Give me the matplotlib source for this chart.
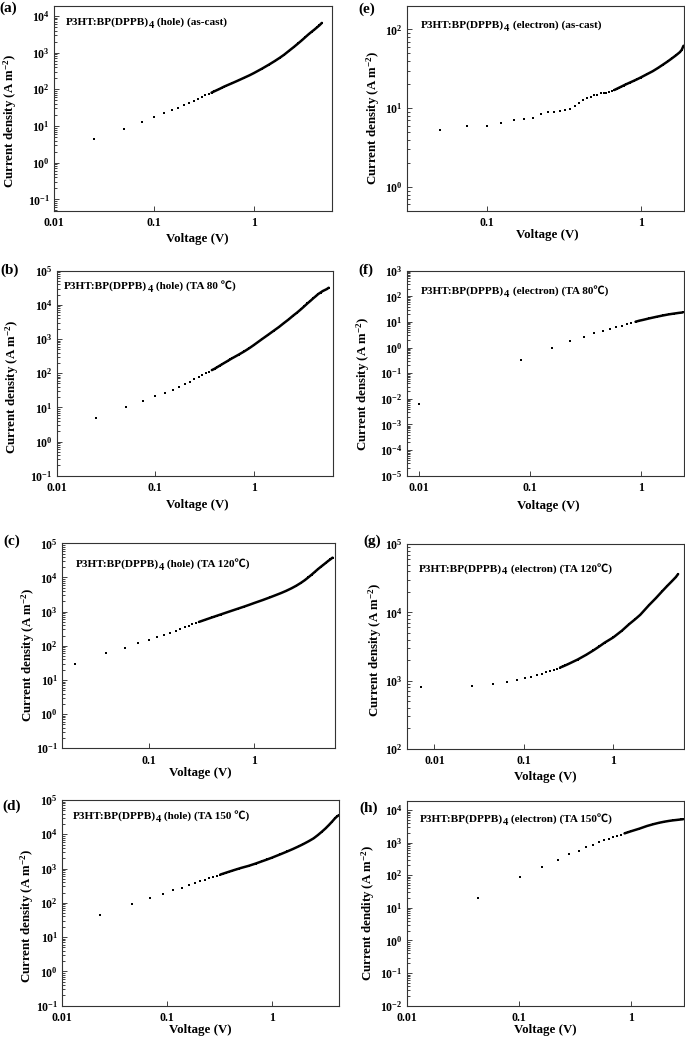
import numpy as np
import matplotlib
matplotlib.use('Agg')
import matplotlib.pyplot as plt
from matplotlib.ticker import LogLocator, FuncFormatter, NullFormatter, NullLocator, FixedLocator

plt.rcParams['font.family'] = ['Liberation Serif', 'Noto Sans CJK SC', 'DejaVu Sans']
plt.rcParams['font.weight'] = 'bold'
plt.rcParams['mathtext.fontset'] = 'custom'
plt.rcParams['mathtext.rm'] = 'Liberation Serif:bold'
plt.rcParams['mathtext.bf'] = 'Liberation Serif:bold'
plt.rcParams['mathtext.it'] = 'Liberation Serif:bold:italic'
plt.rcParams['mathtext.default'] = 'rm'

# ---------------- data ----------------
V_a = [0.025, 0.05, 0.075, 0.1, 0.125, 0.15, 0.175, 0.2, 0.225, 0.25, 0.275, 0.3, 0.325, 0.35,
       0.375, 0.4, 0.425, 0.45, 0.475, 0.5, 0.525, 0.55, 0.575, 0.6, 0.7, 0.8, 0.9, 1.0, 1.2, 1.4,
       1.6, 1.8, 2.0, 2.25, 2.5, 2.75, 3.0, 3.25, 3.5, 3.75, 4.0, 4.25, 4.5, 4.75]
J_a = [4.3, 8.5, 13.1, 18.0, 22.2, 26.7, 31.6, 37.0, 43.0, 49.0, 55.0, 61.5, 68.0, 74.5,
       81, 88, 95, 102, 110, 118, 125, 132, 139, 146, 176, 208, 241, 279, 366, 467,
       584, 720, 881, 1140, 1430, 1775, 2170, 2640, 3160, 3690, 4240, 4870, 5560, 6450]

V_b = [0.025, 0.05, 0.075, 0.1, 0.125, 0.15, 0.175, 0.2, 0.225, 0.25, 0.275, 0.3, 0.325, 0.35,
       0.375, 0.4, 0.425, 0.45, 0.475, 0.5, 0.525, 0.55, 0.575, 0.6, 0.7, 0.8, 0.9, 1.0, 1.2, 1.4,
       1.6, 1.8, 2.0, 2.25, 2.5, 2.75, 3.0, 3.25, 3.5, 3.75, 4.0, 4.25, 4.5, 4.75, 5.0, 5.25, 5.5, 5.75]
J_b = [5.0, 10.0, 15.7, 21, 26.9, 32.9, 40, 48, 56.5, 66, 75.5, 86, 98, 111,
       123, 135, 150, 166, 182, 199, 216, 234, 253, 272, 348, 435, 540, 667, 977, 1339,
       1769, 2255, 2874, 3730, 4820, 5970, 7390, 9080, 11060, 13100, 15500, 17950, 20750, 22950,
       25400, 27150, 29000, 31700]

V_c = [0.02, 0.04, 0.06, 0.08, 0.1, 0.12, 0.14, 0.16, 0.18, 0.2, 0.22, 0.24, 0.26, 0.28, 0.3,
       0.32, 0.34, 0.36, 0.38, 0.4, 0.42, 0.44, 0.46, 0.48, 0.5, 0.6, 0.7, 0.8, 0.9, 1.0, 1.2, 1.4,
       1.6, 1.8, 2.0, 2.25, 2.5, 2.75, 3.0, 3.25, 3.5, 3.75, 4.0, 4.25, 4.5, 4.75, 5.0, 5.25, 5.5]
J_c = [29.5, 60, 88, 120, 150, 180, 212, 245, 280, 315, 350, 386, 422, 460, 500,
       536, 572, 608, 644, 680, 716, 752, 788, 824, 860, 1040, 1220, 1400, 1590, 1790, 2180, 2600,
       3050, 3520, 4050, 4820, 5750, 6900, 8300, 10100, 12200, 14700, 17500, 20400, 23400, 26800,
       30400, 34000, 38000]

V_d = [0.023, 0.046, 0.069, 0.092, 0.115, 0.138, 0.161, 0.184, 0.207, 0.23, 0.253, 0.276, 0.299,
       0.322, 0.345, 0.368, 0.391, 0.414, 0.437, 0.46, 0.483, 0.506, 0.6, 0.7, 0.8, 0.9, 1.0, 1.2,
       1.4, 1.6, 1.8, 2.0, 2.25, 2.5, 2.75, 3.0, 3.25, 3.5, 3.75, 4.0, 4.2, 4.4]
J_d = [45, 93, 137, 185, 232, 280, 330, 380, 428, 476, 524, 572, 620,
       668, 716, 764, 812, 858, 905, 950, 995, 1040, 1200, 1400, 1620, 1840, 2075, 2595,
       3150, 3760, 4440, 5200, 6300, 7600, 9500, 11900, 14800, 18600, 23300, 29200, 33500, 36500]

V_e = [0.05, 0.075, 0.1, 0.125, 0.15, 0.175, 0.2, 0.225, 0.25, 0.275, 0.3, 0.325, 0.35, 0.375,
       0.4, 0.425, 0.45, 0.475, 0.5, 0.525, 0.55, 0.575, 0.6, 0.625, 0.65, 0.675, 0.7, 0.725, 0.75,
       0.775, 0.8, 0.85, 0.9, 0.95, 1.0, 1.1, 1.2, 1.3, 1.4, 1.5, 1.6, 1.7, 1.8, 1.85, 1.9]
J_e = [5.25, 5.9, 6.0, 6.45, 7.0, 7.4, 7.6, 8.45, 9.0, 9.05, 9.25, 9.45, 9.9, 10.6,
       11.6, 12.6, 13.4, 13.9, 14.5, 14.9, 15.4, 15.6, 15.8, 16.0, 16.4, 17.0, 17.6, 18.2, 18.8,
       19.4, 20.0, 21.1, 22.2, 23.3, 24.5, 27.0, 29.5, 32.5, 35.8, 39.2, 43.0, 47.0, 51.5, 55.0, 62.0]

V_f = [0.0099, 0.0841, 0.1583, 0.2325, 0.3067, 0.3809, 0.4551, 0.5293, 0.6035, 0.6777, 0.7519,
       0.8261, 0.9003, 0.9745, 1.0487, 1.2, 1.4, 1.6, 1.8, 2.0, 2.2, 2.4]
J_f = [0.0061, 0.34, 0.96, 1.78, 2.7, 3.7, 4.43, 5.3, 6.15, 7.1, 8.06,
       9.1, 10.2, 11.2, 12.0, 13.8, 16.0, 18.0, 19.8, 21.2, 22.5, 23.5]

V_g = [0.007, 0.026, 0.045, 0.064, 0.083, 0.102, 0.121, 0.14, 0.159, 0.178, 0.197, 0.216, 0.235,
       0.254, 0.273, 0.292, 0.311, 0.4, 0.5, 0.6, 0.7, 0.8, 0.9, 1.0, 1.25, 1.5, 1.75, 2.0, 2.5,
       3.0, 3.5, 4.0, 4.5, 5.0, 5.3]
J_g = [802, 849, 908, 971, 1028, 1087, 1150, 1210, 1265, 1320, 1378, 1436, 1495,
       1555, 1615, 1678, 1742, 2040, 2400, 2780, 3180, 3600, 3950, 4300, 5400, 6700, 7900, 9200, 12700,
       16200, 20200, 24300, 28400, 32800, 36300]

V_h = [0.0433, 0.1033, 0.1633, 0.2233, 0.2833, 0.3433, 0.4033, 0.4633, 0.5233, 0.5833, 0.6433,
       0.7033, 0.7633, 0.8233, 0.8833, 0.9433, 1.0033, 1.2, 1.4, 1.6, 1.8, 2.0, 2.2, 2.4, 2.6, 2.8, 2.95]
J_h = [19.6, 86, 182, 292, 437, 565, 718, 870, 1030, 1180, 1330,
       1480, 1630, 1780, 1930, 2080, 2230, 2700, 3250, 3700, 4090, 4400, 4650, 4850, 5000, 5150, 5250]

panel_letters = ['(a)', '(b)', '(c)', '(d)', '(e)', '(f)', '(g)', '(h)']
annot_main = 'P3HT:BP(DPPB)'
annot_sub = '4'
annot_tail = [' (hole) (as-cast)', ' (hole) (TA 80 ℃)', ' (hole) (TA 120℃)', ' (hole) (TA 150 ℃)',
              ' (electron) (as-cast)', ' (electron) (TA 80℃)', ' (electron) (TA 120℃)',
              ' (electron) (TA 150℃)']
ylabels = ['Current density (A m$^{-2}$)'] * 7 + ['Current dendity (A m$^{-2}$)']
xlabel = 'Voltage (V)'

series = [(V_a, J_a), (V_b, J_b), (V_c, J_c), (V_d, J_d),
          (V_e, J_e), (V_f, J_f), (V_g, J_g), (V_h, J_h)]

# ---------------- layout (pixels) ----------------
W, H = 685, 1041
boxes = [
    (54, 332, 5.7, 210.7, (0.01, 6.0), (0.049, 1.9e4)),
    (56.7, 333.3, 270.7, 475.7, (0.01, 6.4), (0.1, 1e5)),
    (62.3, 335, 543.3, 748.3, (0.0153, 5.8), (0.1, 1e5)),
    (62.3, 339.3, 800, 1005.7, (0.01, 4.4), (0.1, 1e5)),
    (406.7, 683.5, 5.7, 210.7, (0.0303, 1.9), (0.5, 200)),
    (406.7, 683.5, 270.7, 475.7, (0.00774, 2.44), (1e-5, 1e3)),
    (406.7, 683.5, 544, 749, (0.0049, 6.09), (100, 1e5)),
    (406.7, 683.5, 801, 1005.7, (0.01, 2.97), (0.01, 1.9e4)),
]
dense_from = [0.36, 0.36, 0.29, 0.3, 0.66, 0.9, 0.25, 0.88]
letter_pos = [(8, 8), (10, 270), (12, 541), (12, 806), (367, 9), (366, 270), (372, 541), (369, 808)]
annot_pos = [(65.7, 25), (64.3, 289), (75.7, 567), (72.7, 819), (421, 28), (421, 293.7), (419, 571.3), (420, 822)]
ylab_pos = [(10, 121), (12, 387), (28, 655), (27, 915.7), (373, 118), (363, 384), (375, 649.7), (368, 913.3)]
xlab_pos = [(197, 239), (197, 505), (200, 773), (200, 1029.5), (547, 235), (548, 505.7), (545, 776.7), (545.7, 1029.5)]

fig = plt.figure(figsize=(W / 100, H / 100), dpi=100)
renderer = fig.canvas.get_renderer()


def fx(x):
    return x / W


def fy(y):
    return 1 - y / H


def decades_in(lo, hi):
    e0 = int(np.ceil(np.log10(lo) - 1e-9))
    e1 = int(np.floor(np.log10(hi) + 1e-9))
    return [10.0 ** e for e in range(e0, e1 + 1)]


def minors_in(lo, hi):
    e0 = int(np.floor(np.log10(lo))) - 1
    e1 = int(np.ceil(np.log10(hi))) + 1
    out = []
    for e in range(e0, e1):
        for s in range(2, 10):
            v = s * 10.0 ** e
            if lo <= v <= hi:
                out.append(v)
    return out


for i, ((V, J), (L, R, T, B, xl, yl)) in enumerate(zip(series, boxes)):
    ax = fig.add_axes([fx(L), fy(B), (R - L) / W, (B - T) / H])
    ax.set_xscale('log')
    ax.set_yscale('log')
    V = np.asarray(V, dtype=float)
    J = np.asarray(J, dtype=float)
    ax.plot(V, J, linestyle='none', marker='s', ms=1.9, mew=0, color='black')
    m = V >= dense_from[i]
    ax.plot(V[m], J[m], '-', lw=1.8, color='black', solid_capstyle='round')
    ax.set_xlim(*xl)
    ax.set_ylim(*yl)

    ax.xaxis.set_major_locator(FixedLocator(decades_in(*xl)))
    ax.xaxis.set_minor_locator(NullLocator())
    ax.xaxis.set_major_formatter(FuncFormatter(lambda v, p: f'{v:g}'))
    ax.yaxis.set_major_locator(FixedLocator(decades_in(*yl)))
    ax.yaxis.set_minor_locator(FixedLocator(minors_in(*yl)))
    ax.yaxis.set_minor_formatter(NullFormatter())
    ax.yaxis.set_major_formatter(FuncFormatter(lambda v, p: r'$\mathbf{10^{%d}}$' % int(round(np.log10(v)))))

    ax.tick_params(which='both', direction='in', top=False, right=False, width=0.6, color='#222222')
    ax.tick_params(which='major', length=3.5)
    ax.tick_params(which='minor', length=2)
    ax.tick_params(axis='x', labelsize=8.5, pad=4.5)
    ax.tick_params(axis='y', labelsize=8.5, pad=3)
    for lab in ax.get_xticklabels() + ax.get_yticklabels():
        lab.set_fontweight('bold')
    for s in ax.spines.values():
        s.set_linewidth(0.8)
        s.set_color('#333333')

    fig.text(fx(letter_pos[i][0]), fy(letter_pos[i][1]), panel_letters[i], fontsize=11,
             fontweight='bold', ha='center', va='center')

    # annotation with subscript, composed from pieces (baseline aligned)
    ax0, ay0 = annot_pos[i]
    t1 = fig.text(fx(ax0), fy(ay0), annot_main, fontsize=8.1, fontweight='bold',
                  ha='left', va='baseline')
    bb1 = t1.get_window_extent(renderer)
    t2 = fig.text(bb1.x1 / W, fy(ay0 + 3), annot_sub, fontsize=7.7, fontweight='bold',
                  ha='left', va='baseline')
    bb2 = t2.get_window_extent(renderer)
    fig.text(bb2.x1 / W, fy(ay0), annot_tail[i], fontsize=8.1, fontweight='bold',
             ha='left', va='baseline')

    fig.text(fx(ylab_pos[i][0]), fy(ylab_pos[i][1]), ylabels[i], fontsize=9.3,
             fontweight='bold', ha='center', va='center', rotation=90)
    fig.text(fx(xlab_pos[i][0]), fy(xlab_pos[i][1]), xlabel, fontsize=9.3,
             fontweight='bold', ha='center', va='center')

fig.savefig('out.png', dpi=100)
